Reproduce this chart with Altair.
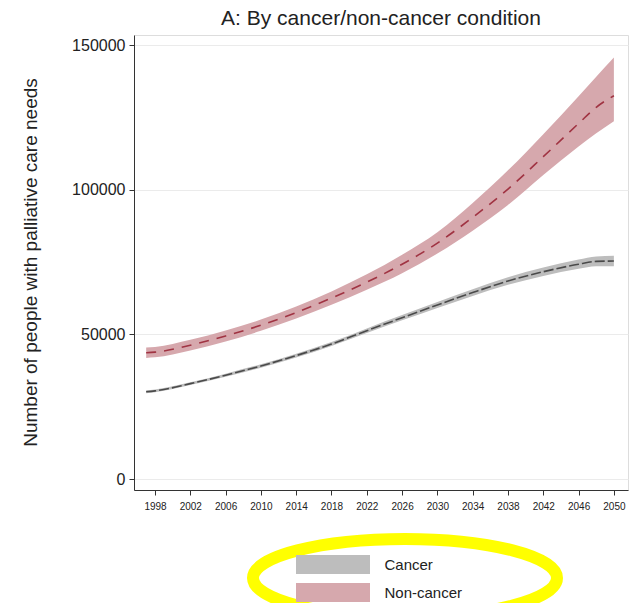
import altair as alt
import pandas as pd

# Projected number of people with palliative care needs, by condition group
years = [1997, 1998, 2002, 2006, 2010, 2014, 2018, 2022, 2026, 2030, 2034, 2038, 2042, 2046, 2048, 2050]

cancer_mid = [30200, 30500, 33000, 35900, 39100, 42700, 46700, 51300, 55800, 60200, 64500, 68500, 71700, 74300, 75300, 75400]
cancer_lo = [29700, 30000, 32500, 35350, 38500, 42050, 46000, 50500, 54900, 59200, 63350, 67200, 70250, 72700, 73600, 73600]
cancer_hi = [30700, 31000, 33500, 36450, 39700, 43350, 47400, 52100, 56700, 61200, 65650, 69800, 73150, 75900, 77000, 77200]

noncancer_mid = [43700, 43900, 46300, 49500, 53200, 57600, 62600, 68100, 74300, 81600, 90500, 100300, 111500, 123000, 128600, 132600]
noncancer_lo = [41900, 42100, 44450, 47600, 51250, 55500, 60300, 65500, 71200, 78000, 85900, 94800, 105200, 115000, 119600, 123800]
noncancer_hi = [45500, 45700, 48150, 51400, 55150, 59700, 64900, 70800, 77600, 85400, 95500, 106800, 119300, 132400, 139200, 145800]

groups = ["Cancer", "Non-cancer"]
fill_colors = ["#BDBDBD", "#D6A8AD"]
line_colors = ["#4A4A4A", "#A03342"]
line_dashes = [[10, 3], [10, 8]]

x_ticks = list(range(1998, 2051, 4))
y_ticks = [0, 50000, 100000, 150000]

rows = []
for g, mid, lo, hi in [
    ("Cancer", cancer_mid, cancer_lo, cancer_hi),
    ("Non-cancer", noncancer_mid, noncancer_lo, noncancer_hi),
]:
    for yr, m, l, h in zip(years, mid, lo, hi):
        rows.append({"year": yr, "group": g, "mid": m, "lo": l, "hi": h})
df = pd.DataFrame(rows)

FONT = "Liberation Sans"
INK = "#222222"

# Legend swatch: a 74x19 rectangle drawn from a 19px symbol
SWATCH = "M -3.895 -1 L 3.895 -1 L 3.895 1 L -3.895 1 Z"
# Ellipse outline drawn around the legend
RING = "M -1 0 A 1 0.257 0 1 0 1 0 A 1 0.257 0 1 0 -1 0 Z"

x_scale = alt.Scale(domain=[1995.62, 2051.6], nice=False, zero=False)
x_axis = alt.Axis(
    values=x_ticks, format="d", grid=False, title=None,
    labelFontSize=10, labelFont=FONT, labelColor=INK,
    labelOverlap=False, labelFlush=False,
    tickSize=5, tickColor="#333333", labelPadding=6,
    domainColor="#333333",
)
y_scale = alt.Scale(domain=[-3800, 153600], nice=False, zero=False)
y_axis = alt.Axis(
    values=y_ticks, format="d", grid=True, gridColor="#EBEBEB",
    title="Number of people with palliative care needs",
    titleFont=FONT, titleFontSize=19, titleFontWeight="normal",
    titleColor=INK, titleX=-104, titleY=227, titleAngle=270,
    titleAlign="center", titleBaseline="middle",
    labelFontSize=16, labelFont=FONT, labelColor=INK,
    tickSize=5, tickColor="#333333", labelPadding=4,
    domainColor="#333333",
)

base = alt.Chart(df)

bands = base.mark_area(interpolate="monotone", opacity=1).encode(
    x=alt.X("year:Q", scale=x_scale, axis=x_axis),
    y=alt.Y("lo:Q", scale=y_scale, axis=y_axis),
    y2="hi:Q",
    color=alt.Color(
        "group:N",
        scale=alt.Scale(domain=groups, range=fill_colors),
        legend=alt.Legend(
            title=None, orient="none", legendX=189.5, legendY=520,
            direction="vertical", symbolType=SWATCH, symbolSize=19 * 19,
            symbolStrokeWidth=0, symbolOpacity=1,
            labelFont=FONT, labelFontSize=15, labelColor=INK,
            labelOffset=42, rowPadding=9, padding=0,
        ),
    ),
)

lines = base.mark_line(interpolate="monotone", strokeWidth=1.6).encode(
    x=alt.X("year:Q", scale=x_scale, axis=x_axis),
    y=alt.Y("mid:Q", scale=y_scale, axis=y_axis),
    stroke=alt.Stroke("group:N", scale=alt.Scale(domain=groups, range=line_colors), legend=None),
    strokeDash=alt.StrokeDash("group:N", scale=alt.Scale(domain=groups, range=line_dashes), legend=None),
)

ring = alt.Chart(pd.DataFrame({"k": [0]})).mark_point(
    shape=RING, filled=False, stroke="#FFFF00", strokeWidth=12,
    size=304 * 304, opacity=1,
).encode(x=alt.value(271), y=alt.value(543))

chart = (
    alt.layer(bands, lines, ring)
    .properties(
        width=494,
        height=455,
        title=alt.TitleParams(
            "A: By cancer/non-cancer condition",
            font=FONT, fontSize=21, fontWeight="normal", color=INK,
            anchor="middle", offset=6,
        ),
        autosize=alt.AutoSizeParams(type="none"),
        padding={"left": 134, "top": 35, "right": 10, "bottom": 113},
    )
    .configure_view(stroke=None)
    .configure_axisX(labelOverlap=False)
    .configure(background="white")
)

chart.save("out.html", embed_options={"renderer": "svg", "actions": False})
